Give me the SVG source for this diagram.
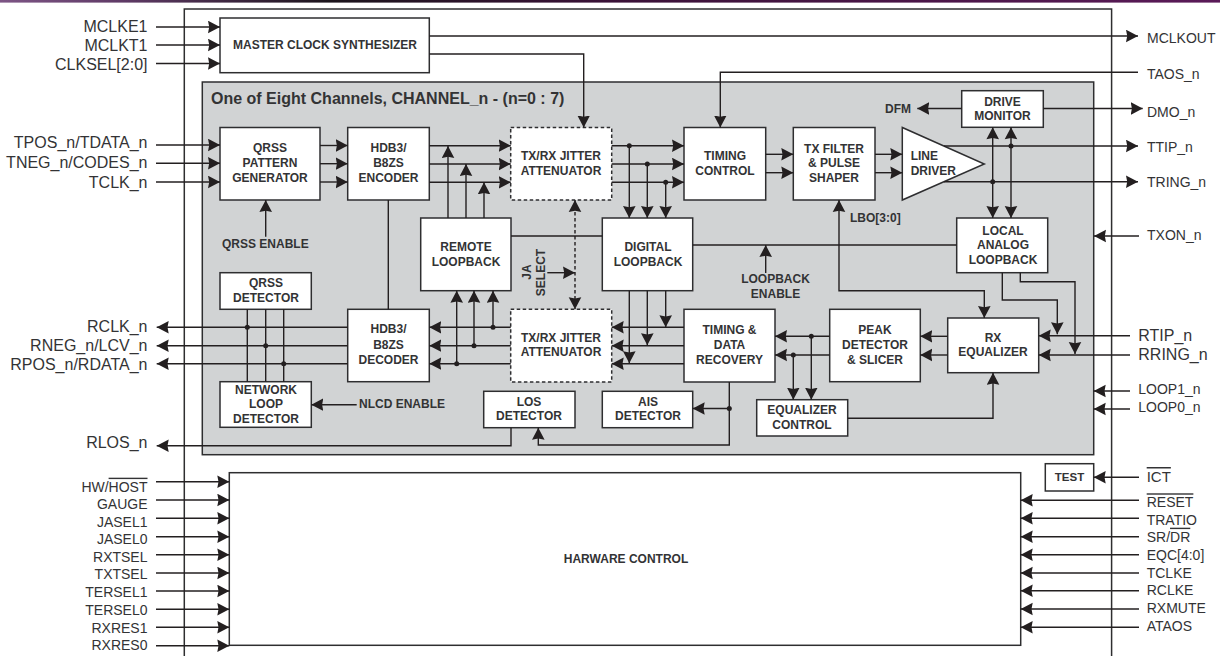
<svg xmlns="http://www.w3.org/2000/svg" width="1220" height="656" viewBox="0 0 1220 656">
<style>
text{font-family:"Liberation Sans",Arial,sans-serif;fill:#333335}
.b{fill:#fff;stroke:#2e2e30;stroke-width:1.5}
.d{fill:#fff;stroke:#2e2e30;stroke-width:1.5;stroke-dasharray:3.5 2.5}
.t{font-size:12px;font-weight:bold;text-anchor:middle}
.e{font-size:12px;font-weight:bold}
.l{font-size:16px;text-anchor:end}
.r{font-size:16px}
.ls{font-size:14px;text-anchor:end}
.rs{font-size:14px}
.c{fill:none;stroke:#231f20;stroke-width:1.4}
.a{marker-end:url(#h)}
.aa{marker-end:url(#h);marker-start:url(#hs)}
.dash{stroke-dasharray:3.5 2.5}
.dot{fill:#231f20}
.ov{text-decoration:overline}
</style>
<defs>
<marker id="h" markerUnits="userSpaceOnUse" markerWidth="14" markerHeight="14" refX="12" refY="6.5" orient="auto"><path d="M0,0.2L12,6.5L0,12.8L1.2,6.5z" fill="#231f20"/></marker>
<marker id="hs" markerUnits="userSpaceOnUse" markerWidth="14" markerHeight="14" refX="0" refY="6.5" orient="auto"><path d="M12,0.2L0,6.5L12,12.8L10.8,6.5z" fill="#231f20"/></marker>
<linearGradient id="bar" x1="0" y1="0" x2="1" y2="0"><stop offset="0" stop-color="#7d5585"/><stop offset="0.1" stop-color="#5f3a66"/><stop offset="0.27" stop-color="#1c141c"/><stop offset="0.5" stop-color="#3a1238"/><stop offset="1" stop-color="#5a1a58"/></linearGradient>
</defs>
<rect width="1220" height="2.6" fill="url(#bar)"/>
<path id="device-frame" d="M184.3,656V9H1111.6V656" fill="none" stroke="#2e2e30" stroke-width="1.5"/>
<g id="channel"><rect x="202.3" y="82" width="891.4" height="372.7" fill="#d1d3d4" stroke="#2e2e30" stroke-width="1.5"/>
<text x="211" y="104" font-size="16" font-weight="bold">One of Eight Channels, CHANNEL_n - (n=0 : 7)</text></g>

<g id="master-clock"><rect class="b" x="220" y="18" width="209.3" height="54.7"/><text class="t" x="325" y="49">MASTER CLOCK SYNTHESIZER</text></g>
<g id="qrss-gen"><rect class="b" x="220" y="127.5" width="100" height="72.5"/><text class="t" x="270" y="152">QRSS</text><text class="t" x="270" y="166.7">PATTERN</text><text class="t" x="270" y="181.7">GENERATOR</text></g>
<g id="encoder"><rect class="b" x="347.7" y="127.5" width="81.6" height="72.5"/><text class="t" x="388.5" y="152">HDB3/</text><text class="t" x="388.5" y="166.7">B8ZS</text><text class="t" x="388.5" y="181.7">ENCODER</text></g>
<g id="jitter-tx"><rect class="d" x="510.7" y="127.5" width="101" height="72.5"/><text class="t" x="561" y="160">TX/RX JITTER</text><text class="t" x="561" y="175">ATTENUATOR</text></g>
<g id="timing-control"><rect class="b" x="684" y="127.5" width="81.7" height="72.5"/><text class="t" x="725" y="160">TIMING</text><text class="t" x="725" y="175">CONTROL</text></g>
<g id="tx-filter"><rect class="b" x="793.3" y="127.5" width="81.7" height="72.5"/><text class="t" x="834" y="152.7">TX FILTER</text><text class="t" x="834" y="166.7">&amp; PULSE</text><text class="t" x="834" y="181.7">SHAPER</text></g>
<g id="line-driver"><path class="b" d="M902.3,127.5V200L984.3,164z"/><text class="t" x="910.7" y="160" style="text-anchor:start">LINE</text><text class="t" x="910.7" y="175" style="text-anchor:start">DRIVER</text></g>
<g id="drive-monitor"><rect class="b" x="961.7" y="90.7" width="81.6" height="36.6"/><text class="t" x="1002.5" y="105.7">DRIVE</text><text class="t" x="1002.5" y="119.7">MONITOR</text></g>
<g id="local-analog"><rect class="b" x="956.7" y="218" width="91" height="54.7"/><text class="t" x="1003" y="235">LOCAL</text><text class="t" x="1003" y="249">ANALOG</text><text class="t" x="1003" y="264">LOOPBACK</text></g>
<g id="remote-loopback"><rect class="b" x="420.7" y="218" width="90.3" height="72.7"/><text class="t" x="466" y="251">REMOTE</text><text class="t" x="466" y="266">LOOPBACK</text></g>
<g id="digital-loopback"><rect class="b" x="602.3" y="218" width="90.4" height="72.7"/><text class="t" x="648" y="251">DIGITAL</text><text class="t" x="648" y="266">LOOPBACK</text></g>
<g id="qrss-det"><rect class="b" x="220" y="272.7" width="91.3" height="36.6"/><text class="t" x="266" y="286.7">QRSS</text><text class="t" x="266" y="301.7">DETECTOR</text></g>
<g id="network-loop"><rect class="b" x="220" y="381.7" width="91.3" height="45.6"/><text class="t" x="266" y="394">NETWORK</text><text class="t" x="266" y="408">LOOP</text><text class="t" x="266" y="422.7">DETECTOR</text></g>
<g id="decoder"><rect class="b" x="347.7" y="309.3" width="81.6" height="72.4"/><text class="t" x="388.5" y="333.3">HDB3/</text><text class="t" x="388.5" y="349">B8ZS</text><text class="t" x="388.5" y="364">DECODER</text></g>
<g id="jitter-rx"><rect class="d" x="510.7" y="309.3" width="101" height="72.7"/><text class="t" x="561" y="342">TX/RX JITTER</text><text class="t" x="561" y="356">ATTENUATOR</text></g>
<g id="timing-data"><rect class="b" x="684" y="309.3" width="91" height="72.7"/><text class="t" x="729.5" y="334">TIMING &amp;</text><text class="t" x="729.5" y="349">DATA</text><text class="t" x="729.5" y="364">RECOVERY</text></g>
<g id="peak-detector"><rect class="b" x="829.7" y="309.3" width="90.6" height="72.4"/><text class="t" x="875" y="334">PEAK</text><text class="t" x="875" y="349">DETECTOR</text><text class="t" x="875" y="364">&amp; SLICER</text></g>
<g id="rx-equalizer"><rect class="b" x="947.7" y="318" width="91" height="54.7"/><text class="t" x="993" y="342">RX</text><text class="t" x="993" y="356">EQUALIZER</text></g>
<g id="los-detector"><rect class="b" x="483.7" y="391.3" width="91.3" height="36.4"/><text class="t" x="529" y="406">LOS</text><text class="t" x="529" y="420">DETECTOR</text></g>
<g id="ais-detector"><rect class="b" x="602.3" y="391.3" width="90.4" height="36.4"/><text class="t" x="648" y="406">AIS</text><text class="t" x="648" y="420">DETECTOR</text></g>
<g id="equalizer-control"><rect class="b" x="756.7" y="399.7" width="91" height="36.3"/><text class="t" x="802" y="414">EQUALIZER</text><text class="t" x="802" y="428.7">CONTROL</text></g>
<g id="hardware-control"><rect class="b" x="229.3" y="472.7" width="791.4" height="172.6"/><text class="t" x="626" y="562.7">HARWARE CONTROL</text></g>
<g id="test"><rect class="b" x="1045.3" y="463.7" width="48.4" height="27.3"/><text class="t" x="1069.5" y="480.7" style="font-size:11.5px">TEST</text></g>

<g id="connectors">
<path class="c a" d="M156,27H220"/><path class="c a" d="M156,45H220"/><path class="c a" d="M156,63.5H220"/>
<path class="c a" d="M429.3,36H1138"/>
<path class="c a" d="M429.3,54H583.7V127.5"/>
<path class="c a" d="M1138,72.3H720.3V127.5"/>
<path class="c a" d="M156,145H220"/><path class="c a" d="M156,163.3H220"/><path class="c a" d="M156,182H220"/>
<path class="c a" d="M320,145.5H347.7"/><path class="c a" d="M320,163.7H347.7"/><path class="c a" d="M320,182H347.7"/>
<path class="c a" d="M429.3,145.7H510.7"/><path class="c a" d="M429.3,164H510.7"/><path class="c a" d="M429.3,182.3H510.7"/>
<path class="c a" d="M611.7,145.7H684"/><path class="c a" d="M611.7,164H684"/><path class="c a" d="M611.7,182.3H684"/>
<path class="c a" d="M629.3,145.7V218"/><path class="c a" d="M647.3,164V218"/><path class="c a" d="M665.7,182.3V218"/>
<path class="c a" d="M448,218V146"/><path class="c a" d="M466,218V164"/><path class="c a" d="M484,218V182.3"/>
<path class="c a" d="M265.7,236.7V200"/>
<path class="c" d="M388.3,200V309.3"/>
<path class="c" d="M511,236H602.3"/>
<path class="c" d="M692.7,245H956.7"/>
<path class="c a" d="M765.7,273V245"/>
<path class="c dash aa" d="M575,200V309.3"/>
<path class="c a" d="M547.3,272.7H575"/>
<path class="c a" d="M347.7,327.3H156.7"/><path class="c a" d="M347.7,345.7H156.7"/><path class="c a" d="M347.7,363.7H156.7"/>
<path class="c" d="M247.3,309.3V381.7"/><path class="c" d="M265.7,309.3V381.7"/><path class="c" d="M283.7,309.3V381.7"/>
<path class="c a" d="M356.7,404.7H311.3"/>
<path class="c a" d="M510.7,327.3H429.3"/><path class="c a" d="M510.7,345.7H429.3"/><path class="c a" d="M510.7,363.7H429.3"/>
<path class="c a" d="M493,327.3V290.7"/><path class="c a" d="M474,345.7V290.7"/><path class="c a" d="M456.7,363.7V290.7"/>
<path class="c a" d="M684,327.3H611.7"/><path class="c a" d="M684,345.7H611.7"/><path class="c a" d="M684,363.7H611.7"/>
<path class="c a" d="M629.3,290.7V363.3"/><path class="c a" d="M647.3,290.7V345.3"/><path class="c a" d="M665.7,290.7V327.3"/>
<path class="c a" d="M729.3,382V445H538.3V427.7"/>
<path class="c a" d="M729.3,408.5H692.7"/>
<path class="c a" d="M511,427.7V445.7H156.7"/>
<path class="c a" d="M829.7,336.3H775"/><path class="c a" d="M829.7,355H775"/>
<path class="c a" d="M811.3,336.3V399.7"/><path class="c a" d="M793.3,355V399.7"/>
<path class="c a" d="M947.7,336.3H920.3"/><path class="c a" d="M947.7,355H920.3"/>
<path class="c a" d="M847.7,418.3H993V372.7"/>
<path class="c aa" d="M839,200V290.7H984.3V318"/>
<path class="c a" d="M1002.3,272.7V300H1057.3V334.3"/>
<path class="c a" d="M1020.3,272.7V281.7H1075V354"/>
<path class="c a" d="M1130,335.7H1038.7"/><path class="c a" d="M1130,355H1038.7"/>
<path class="c a" d="M1130,391H1093.7"/><path class="c a" d="M1130,409H1093.7"/>
<path class="c a" d="M1139,236H1094"/>
<path class="c a" d="M1043.3,108.5H1142.7"/>
<path class="c a" d="M961.7,108.5H917.3"/>
<path class="c aa" d="M992.7,127.3V218"/><path class="c aa" d="M1011,127.3V218"/>
<path class="c a" d="M944,146H1138"/><path class="c a" d="M944,181.7H1138"/>
<path class="c a" d="M765.7,154.3H793.3"/><path class="c a" d="M765.7,172.7H793.3"/>
<path class="c a" d="M875,154.3H902.3"/><path class="c a" d="M875,172.7H902.3"/>
<path class="c a" d="M156,481.7H229.3"/><path class="c a" d="M156,500H229.3"/><path class="c a" d="M156,518.3H229.3"/><path class="c a" d="M156,536.7H229.3"/><path class="c a" d="M156,554.7H229.3"/><path class="c a" d="M156,573H229.3"/><path class="c a" d="M156,591H229.3"/><path class="c a" d="M156,609.3H229.3"/><path class="c a" d="M156,627.3H229.3"/><path class="c a" d="M156,645.7H229.3"/>
<path class="c a" d="M1139,477.3H1093.7"/>
<path class="c a" d="M1139,500.3H1020.7"/><path class="c a" d="M1139,518.3H1020.7"/><path class="c a" d="M1139,536.7H1020.7"/><path class="c a" d="M1139,554.7H1020.7"/><path class="c a" d="M1139,573H1020.7"/><path class="c a" d="M1139,590.7H1020.7"/><path class="c a" d="M1139,609H1020.7"/><path class="c a" d="M1139,627.3H1020.7"/>
<g class="dot">
<circle cx="629.3" cy="145.7" r="2.5"/><circle cx="647.3" cy="164" r="2.5"/><circle cx="665.7" cy="182.3" r="2.5"/>
<circle cx="247.3" cy="327.3" r="2.5"/><circle cx="265.7" cy="345.7" r="2.5"/><circle cx="283.7" cy="363.7" r="2.5"/>
<circle cx="493" cy="327.3" r="2.5"/><circle cx="474" cy="345.7" r="2.5"/><circle cx="456.7" cy="363.7" r="2.5"/>
<circle cx="729.3" cy="408.5" r="2.5"/><circle cx="811.3" cy="336.3" r="2.5"/><circle cx="793.3" cy="355" r="2.5"/>
<circle cx="1011" cy="146" r="2.5"/><circle cx="992.7" cy="181.7" r="2.5"/>
</g>
</g>

<g id="inner-labels">
<text class="e" x="222" y="248.3">QRSS ENABLE</text>
<text class="e" x="359" y="408">NLCD ENABLE</text>
<text class="t" x="775.5" y="282.7">LOOPBACK</text><text class="t" x="775.5" y="298.3">ENABLE</text>
<text class="e" x="885" y="112.7">DFM</text>
<text class="e" x="850" y="221.7">LBO[3:0]</text>
<text class="t" transform="translate(530.7,272) rotate(-90)">JA</text>
<text class="t" transform="translate(545,272.5) rotate(-90)">SELECT</text>
</g>
<g id="pin-labels">
<text class="l" x="147.5" y="32">MCLKE1</text><text class="l" x="147.5" y="51">MCLKT1</text><text class="l" x="147.5" y="70">CLKSEL[2:0]</text>
<text class="l" x="147.5" y="148">TPOS_n/TDATA_n</text><text class="l" x="147.5" y="167.5">TNEG_n/CODES_n</text><text class="l" x="147.5" y="188">TCLK_n</text>
<text class="l" x="147.5" y="332">RCLK_n</text><text class="l" x="147.5" y="351">RNEG_n/LCV_n</text><text class="l" x="147.5" y="370">RPOS_n/RDATA_n</text>
<text class="l" x="147.5" y="448">RLOS_n</text>
<text class="ls" x="147.5" y="491.7">HW/<tspan class="ov">HOST</tspan></text><text class="ls" x="147.5" y="508.7">GAUGE</text><text class="ls" x="147.5" y="527">JASEL1</text><text class="ls" x="147.5" y="544.3">JASEL0</text><text class="ls" x="147.5" y="561.7">RXTSEL</text><text class="ls" x="147.5" y="579.3">TXTSEL</text><text class="ls" x="147.5" y="596.7">TERSEL1</text><text class="ls" x="147.5" y="615">TERSEL0</text><text class="ls" x="147.5" y="633.3">RXRES1</text><text class="ls" x="147.5" y="650">RXRES0</text>
<text class="rs" x="1147" y="43.3">MCLKOUT</text><text class="rs" x="1147" y="79">TAOS_n</text><text class="rs" x="1147" y="116.7">DMO_n</text><text class="rs" x="1147" y="151.7">TTIP_n</text><text class="rs" x="1147" y="186.7">TRING_n</text><text class="rs" x="1147" y="240">TXON_n</text>
<text class="r" x="1138.3" y="341">RTIP_n</text><text class="r" x="1138.3" y="360">RRING_n</text><text class="rs" x="1138.3" y="394.3">LOOP1_n</text><text class="rs" x="1138.3" y="412">LOOP0_n</text>
<text class="rs" x="1146.7" y="482" style="font-size:15px"><tspan class="ov">ICT</tspan></text>
<text class="rs" x="1146.7" y="507.3"><tspan class="ov">RESET</tspan></text><text class="rs" x="1146.7" y="525">TRATIO</text><text class="rs" x="1146.7" y="541.7">SR/<tspan class="ov">DR</tspan></text><text class="rs" x="1146.7" y="560.3">EQC[4:0]</text><text class="rs" x="1146.7" y="578.3">TCLKE</text><text class="rs" x="1146.7" y="595.3">RCLKE</text><text class="rs" x="1146.7" y="613.3">RXMUTE</text><text class="rs" x="1146.7" y="631">ATAOS</text>
</g>
</svg>
